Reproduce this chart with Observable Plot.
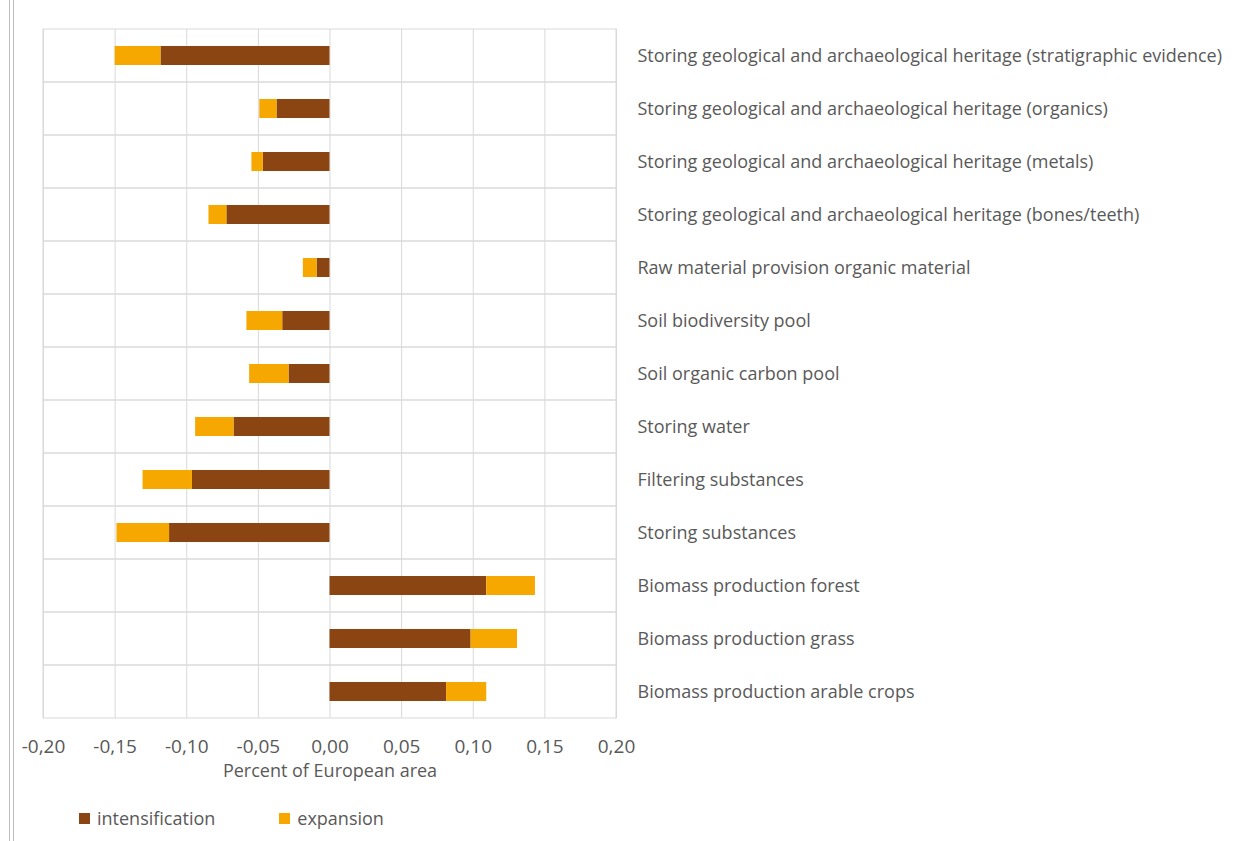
<!DOCTYPE html>
<html>
<head>
<meta charset="utf-8">
<script src="https://cdn.jsdelivr.net/npm/d3@7"></script>
<script src="https://cdn.jsdelivr.net/npm/@observablehq/plot@0.6"></script>
<style>
  html, body { margin: 0; padding: 0; background: #fff; }
  #wrap { position: relative; width: 1258px; height: 841px; overflow: hidden; font-family: "Open Sans", "Noto Sans", sans-serif; }
  #edge { position: absolute; left: 9px; top: 0; width: 3px; height: 841px; border-left: 1px solid #bdbdbd; border-right: 1px solid #bdbdbd; }
  #chart { position: absolute; left: 0; top: 0; }
  #legend { position: absolute; left: 79px; top: 806px; display: flex; font-size: 18px; color: #595959; }
  #legend .item { display: flex; align-items: center; }
  #legend .sw { width: 11px; height: 11px; margin-right: 7px; }
</style>
</head>
<body>
<div id="wrap">
  <div id="edge"></div>
  <div id="chart"></div>
  <div id="legend"></div>
</div>
<script>
// Soil functions affected by land-use change, top to bottom
const categories = [
  "Storing geological and archaeological heritage (stratigraphic evidence)",
  "Storing geological and archaeological heritage (organics)",
  "Storing geological and archaeological heritage (metals)",
  "Storing geological and archaeological heritage (bones/teeth)",
  "Raw material provision organic material",
  "Soil biodiversity pool",
  "Soil organic carbon pool",
  "Storing water",
  "Filtering substances",
  "Storing substances",
  "Biomass production forest",
  "Biomass production grass",
  "Biomass production arable crops"
];

// Percent of European area per driver
const intensification = [-0.118, -0.037, -0.0465, -0.072, -0.009, -0.033, -0.0286, -0.067, -0.096, -0.112, 0.1094, 0.0985, 0.0814];
const expansion = [-0.032, -0.012, -0.008, -0.0125, -0.0096, -0.025, -0.0275, -0.0268, -0.0345, -0.0367, 0.034, 0.0324, 0.028];

const seriesNames = ["intensification", "expansion"];
const seriesColors = ["#8B4513", "#F6A800"];
const xTicks = [-0.2, -0.15, -0.1, -0.05, 0, 0.05, 0.1, 0.15, 0.2];
const xLabel = "Percent of European area";

const rows = [];
categories.forEach((c, i) => {
  rows.push({category: c, series: seriesNames[0], value: intensification[i]});
  rows.push({category: c, series: seriesNames[1], value: expansion[i]});
});

const fmt = d => d.toFixed(2).replace(".", ",");
const gridColor = "#d9d9d9";

const chart = Plot.plot({
  width: 1258,
  height: 790,
  marginLeft: 43,
  marginRight: 642,
  marginTop: 29,
  marginBottom: 72,
  style: {fontFamily: "'Open Sans', 'Noto Sans', sans-serif", fontSize: "18px", color: "#595959", background: "transparent"},
  x: {domain: [-0.2, 0.2]},
  y: {domain: categories, padding: 0},
  color: {domain: seriesNames, range: seriesColors},
  marks: [
    Plot.gridX(xTicks, {stroke: gridColor, strokeOpacity: 1, strokeWidth: 1}),
    Plot.barX(categories, {x1: () => -0.2, x2: () => 0.2, y: d => d, fill: "none", stroke: gridColor, strokeWidth: 1}),
    Plot.barX(rows, Plot.stackX({x: "value", y: "category", fill: "series", order: seriesNames, insetTop: 17, insetBottom: 17})),
    Plot.axisX({ticks: xTicks, tickFormat: fmt, tickSize: 0, tickPadding: 21, fontSize: 19, label: null}),
    Plot.axisX({ticks: [], tickSize: 0, label: xLabel, labelAnchor: "center", labelArrow: "none", labelOffset: 58, dx: -6}),
    Plot.axisY({anchor: "right", tickSize: 0, tickPadding: 21, label: null})
  ]
});
document.getElementById("chart").appendChild(chart);

// Legend below the plot
const legend = document.getElementById("legend");
const gaps = [64, 0];
seriesNames.forEach((name, i) => {
  const item = document.createElement("div");
  item.className = "item";
  item.style.marginRight = gaps[i] + "px";
  const sw = document.createElement("span");
  sw.className = "sw";
  sw.style.background = seriesColors[i];
  const t = document.createElement("span");
  t.textContent = name;
  item.appendChild(sw);
  item.appendChild(t);
  legend.appendChild(item);
});
</script>
</body>
</html>
